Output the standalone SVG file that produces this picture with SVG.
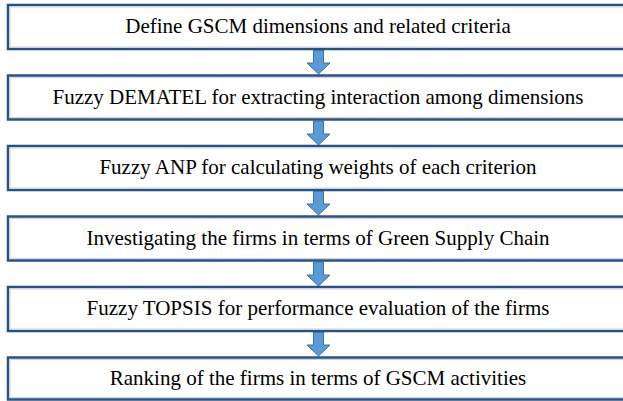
<svg xmlns="http://www.w3.org/2000/svg" width="623" height="401" viewBox="0 0 623 401">
<defs>
<style>
.box rect.o{fill:#fff;stroke:#2b5181;stroke-width:2.5}
.box rect.i{fill:none;stroke:#c7d3e3;stroke-width:1}
.box text{font-family:"Liberation Serif","Times New Roman",serif;font-size:21px;fill:#000;text-anchor:middle}
.arr{fill:#5b9bd5;stroke:#41719c;stroke-width:1}
</style>
</defs>
<rect width="623" height="401" fill="#fff"/>
<g id="connectors">
<path class="arr" d="M313.5,50 H323.5 V63 H330 L318.5,74 L307,63 H313.5 Z"/>
<path class="arr" d="M313.5,121 H323.5 V134 H330 L318.5,145 L307,134 H313.5 Z"/>
<path class="arr" d="M313.5,191 H323.5 V204 H330 L318.5,215 L307,204 H313.5 Z"/>
<path class="arr" d="M313.5,262 H323.5 V275 H330 L318.5,286 L307,275 H313.5 Z"/>
<path class="arr" d="M313.5,332 H323.5 V345 H330 L318.5,356 L307,345 H313.5 Z"/>
</g>
<g id="n1" class="box"><rect class="o" x="8" y="5" width="620" height="44"/><rect class="i" x="10" y="7" width="616" height="40"/><text x="318" y="33">Define GSCM dimensions and related criteria</text></g>
<g id="n2" class="box"><rect class="o" x="8" y="75.5" width="620" height="44"/><rect class="i" x="10" y="77.5" width="616" height="40"/><text x="318" y="103.5">Fuzzy DEMATEL for extracting interaction among dimensions</text></g>
<g id="n3" class="box"><rect class="o" x="8" y="146" width="620" height="44"/><rect class="i" x="10" y="148" width="616" height="40"/><text x="318" y="174">Fuzzy ANP for calculating weights of each criterion</text></g>
<g id="n4" class="box"><rect class="o" x="8" y="216.5" width="620" height="44"/><rect class="i" x="10" y="218.5" width="616" height="40"/><text x="318" y="244.5">Investigating the firms in terms of Green Supply Chain</text></g>
<g id="n5" class="box"><rect class="o" x="8" y="287" width="620" height="44"/><rect class="i" x="10" y="289" width="616" height="40"/><text x="318" y="315">Fuzzy TOPSIS for performance evaluation of the firms</text></g>
<g id="n6" class="box"><rect class="o" x="8" y="357.5" width="620" height="42"/><rect class="i" x="10" y="359.5" width="616" height="38"/><text x="318" y="385">Ranking of the firms in terms of GSCM activities</text></g>
</svg>
